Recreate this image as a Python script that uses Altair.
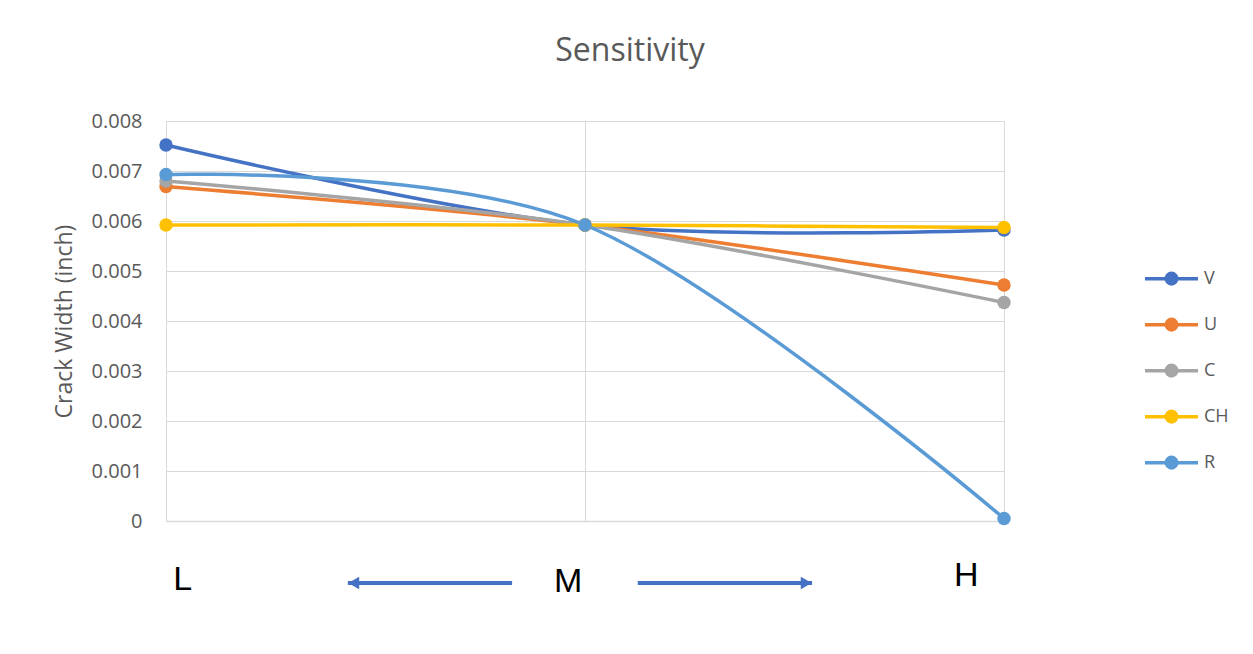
import altair as alt
import pandas as pd

# ---- data ----
levels = ["L", "M", "H"]
series = ["V", "U", "C", "CH", "R"]
V = [0.00752, 0.00592, 0.00582]
U = [0.00669, 0.00592, 0.00472]
C = [0.00680, 0.00592, 0.00437]
CH = [0.00592, 0.00592, 0.00587]
R = [0.00693, 0.00592, 0.00005]
colors = ["#4472C4", "#ED7D31", "#A5A5A5", "#FFC000", "#5B9BD5"]
y_ticks = [0, 0.001, 0.002, 0.003, 0.004, 0.005, 0.006, 0.007, 0.008]

# annotation below the plot: letters and arrows (x in level units, y in data units)
ann_text = ["L", "M", "H"]
ann_x = [0.04, 0.96, 1.91]
ann_y = [-0.00118, -0.00122, -0.0011]
arrow_tail = [0.826, 1.126]
arrow_tip = [0.434, 1.542]
arrow_y = [-0.00124, -0.00124]

values = {"V": V, "U": U, "C": C, "CH": CH, "R": R}
rows = []
for s in series:
    for i, lv in enumerate(levels):
        rows.append({"series": s, "level": lv, "x": i, "value": values[s][i]})
df = pd.DataFrame(rows)

grey = "#595959"
grid = "#d9d9d9"
font = "Open Sans"

xscale = alt.Scale(domain=[0, 2], nice=False, zero=False)
yscale = alt.Scale(domain=[0, 0.008], nice=False)
cscale = alt.Scale(domain=series, range=colors)

legend_path = ("M-1,0H1"
               "M-0.2,0a0.2,0.2 0 1,0 0.4,0a0.2,0.2 0 1,0 -0.4,0"
               "M-0.12,0a0.12,0.12 0 1,0 0.24,0a0.12,0.12 0 1,0 -0.24,0"
               "M-0.05,0a0.05,0.05 0 1,0 0.1,0a0.05,0.05 0 1,0 -0.1,0")

base = alt.Chart(df)

lines = base.mark_line(interpolate="cardinal", strokeWidth=3.5).encode(
    x=alt.X("x:Q", scale=xscale,
            axis=alt.Axis(values=[0, 1, 2], labels=False, ticks=False, title=None,
                          grid=True, gridColor=grid, domainColor=grid, domainWidth=1.5)),
    y=alt.Y("value:Q", scale=yscale,
            axis=alt.Axis(values=y_ticks, title="Crack Width (inch)", domain=False, ticks=False,
                          grid=True, gridColor=grid,
                          labelExpr="datum.value == 0 ? '0' : format(datum.value, '.3f')",
                          labelFont=font, labelFontSize=20, labelColor=grey, labelPadding=24,
                          titleFont=font, titleFontSize=23, titleColor=grey, titleFontWeight="normal",
                          titleX=-102, titleY=200, titleAlign="center", titleBaseline="middle",
                          titleAngle=270)),
    color=alt.Color("series:N", scale=cscale,
                    legend=alt.Legend(title=None, orient="none", legendX=977, legendY=135,
                                      symbolType=legend_path, symbolSize=2809,
                                      symbolStrokeWidth=3.5, clipHeight=45.25, rowPadding=0,
                                      labelFont=font, labelFontSize=18, labelColor=grey,
                                      labelOffset=4)),
    order=alt.Order("x:Q"),
    detail="series:N",
)

points = base.mark_point(filled=True, size=180, opacity=1).encode(
    x=alt.X("x:Q", scale=xscale),
    y=alt.Y("value:Q", scale=yscale),
    color=alt.Color("series:N", scale=cscale, legend=None),
)

ann_df = pd.DataFrame({"t": ann_text, "x": ann_x, "y": ann_y})
ann = alt.Chart(ann_df).mark_text(font="Liberation Sans", fontSize=34, color="#000000",
                                   baseline="middle", align="center").encode(
    x=alt.X("x:Q", scale=xscale), y=alt.Y("y:Q", scale=yscale), text="t:N")

arr_df = pd.DataFrame({"tail": arrow_tail, "tip": arrow_tip, "y": arrow_y})
arr_rule = alt.Chart(arr_df).mark_rule(color="#4472C4", strokeWidth=4).encode(
    x=alt.X("tail:Q", scale=xscale), x2="tip:Q", y=alt.Y("y:Q", scale=yscale))
head_df = pd.DataFrame({
    "hx": [t + (0.014 if t < tl else -0.014) for t, tl in zip(arrow_tip, arrow_tail)],
    "y": arrow_y,
    "shape": ["triangle-left" if t < tl else "triangle-right" for t, tl in zip(arrow_tip, arrow_tail)],
})
arr_head = alt.Chart(head_df).mark_point(filled=True, color="#4472C4", size=160, opacity=1).encode(
    x=alt.X("hx:Q", scale=xscale), y=alt.Y("y:Q", scale=yscale),
    shape=alt.Shape("shape:N", scale=None))

chart = alt.layer(lines, points, ann, arr_rule, arr_head).properties(
    width=838, height=400,
    title=alt.Title("Sensitivity", font=font, fontSize=32, fontWeight="normal", color=grey,
                    anchor="middle", dx=45, offset=43),
    autosize=alt.AutoSizeParams(type="none"),
    padding={"left": 158, "top": 113, "right": 230, "bottom": 125},
).configure_view(stroke=None).configure(background="white")

chart.save("out.html", embed_options={"renderer": "svg", "actions": False})
